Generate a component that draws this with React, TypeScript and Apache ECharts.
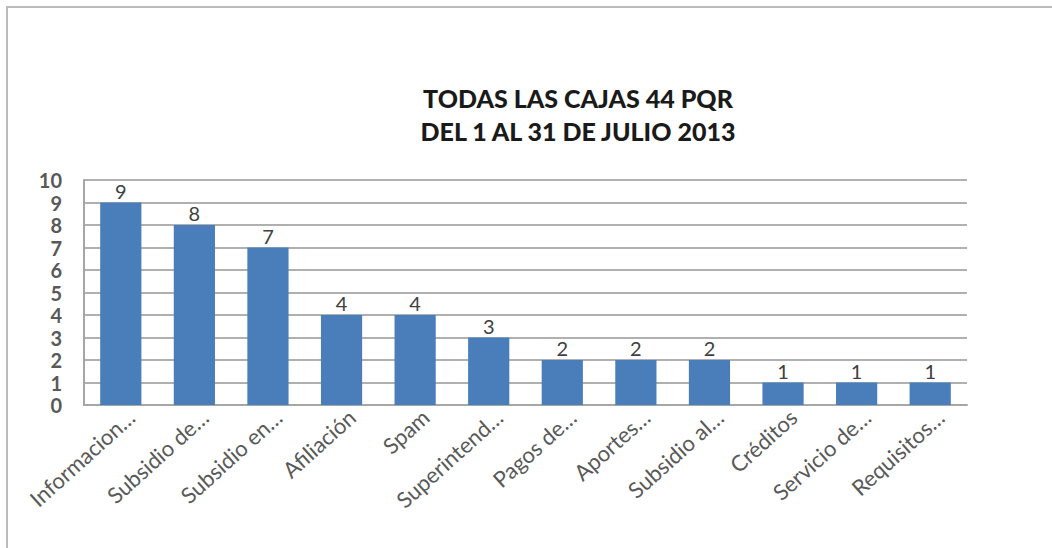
import React, { useEffect, useRef } from "react";
import * as echarts from "echarts";

const categories = [
  "Informacion…",
  "Subsidio de…",
  "Subsidio en…",
  "Afiliación",
  "Spam",
  "Superintend…",
  "Pagos de…",
  "Aportes…",
  "Subsidio al…",
  "Créditos",
  "Servicio de…",
  "Requisitos…",
];
const values = [9, 8, 7, 4, 4, 3, 2, 2, 2, 1, 1, 1];
const titleLines = ["TODAS LAS CAJAS 44 PQR", "DEL 1 AL 31 DE JULIO 2013"];

export default function App() {
  const ref = useRef<HTMLDivElement>(null);
  useEffect(() => {
    const chart = echarts.init(ref.current!, null, { renderer: "svg" });
    chart.setOption({
      animation: false,
      backgroundColor: "#fff",
      textStyle: { fontFamily: "Lato" },
      title: {
        text: titleLines.join("\n"),
        left: 573,
        top: 76,
        textAlign: "center",
        textStyle: {
          fontFamily: "Lato",
          fontWeight: 900,
          fontSize: 25,
          lineHeight: 33,
          color: "#1a1a1a",
        },
      },
      graphic: [
        {
          type: "polyline",
          shape: {
            points: [
              [7, 548],
              [7, 7],
              [1052, 7],
            ],
          },
          style: { stroke: "#bcbcbc", lineWidth: 2, fill: "none" },
          silent: true,
        },
      ],
      grid: { left: 84, right: 85, top: 180, bottom: 143 },
      xAxis: {
        type: "category",
        data: categories,
        axisLine: { show: true, lineStyle: { color: "#a6a6a6", width: 2 } },
        axisTick: { show: false },
        axisLabel: {
          rotate: 42,
          interval: 0,
          fontSize: 22,
          color: "#595959",
          margin: 18,
          padding: [0, -14, 0, 0],
          fontFamily: "Lato",
        },
      },
      yAxis: {
        type: "value",
        min: 0,
        max: 10,
        interval: 1,
        axisLine: { show: true, lineStyle: { color: "#a6a6a6", width: 2 } },
        axisTick: { show: false },
        axisLabel: {
          fontSize: 20,
          fontWeight: "bold",
          color: "#595959",
          margin: 22,
          fontFamily: "Lato",
        },
        splitLine: { lineStyle: { color: "#b0b0b0", width: 2 } },
      },
      series: [
        {
          type: "bar",
          data: values,
          barWidth: "56%",
          itemStyle: { color: "#4a7ebb" },
          label: {
            show: true,
            position: "top",
            distance: 2,
            fontSize: 20,
            color: "#404040",
            fontFamily: "Lato",
          },
        },
      ],
    });
    return () => chart.dispose();
  }, []);
  return (
    <div
      ref={ref}
      style={{ position: "fixed", left: 0, top: 0, width: 1052, height: 548 }}
    />
  );
}
